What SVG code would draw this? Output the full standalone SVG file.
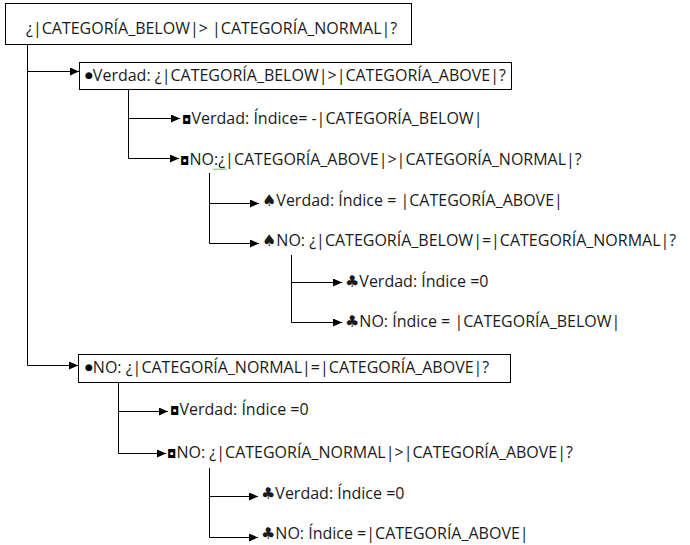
<svg xmlns="http://www.w3.org/2000/svg" width="690" height="545" viewBox="0 0 690 545">
<defs>
<marker id="ah" markerUnits="userSpaceOnUse" markerWidth="9" markerHeight="8" refX="9" refY="4" orient="auto">
<path d="M0,0 L9,4 L0,8 z" fill="#000"/>
</marker>
<style>
text{font-family:"Open Sans","DejaVu Sans",sans-serif;font-size:16px;fill:#1a1a1a}
.b{font-family:"DejaVu Sans",sans-serif;font-size:9px;fill:#000}
.s{font-family:"DejaVu Sans",sans-serif;font-size:12px;fill:#000}
.box{fill:#fff;stroke:#000;stroke-width:1}
.c{fill:none;stroke:#000;stroke-width:1}
.a{fill:none;stroke:#000;stroke-width:1;marker-end:url(#ah)}
</style>
</defs>
<rect width="690" height="545" fill="#fff"/>
<g id="connectors">
<path class="c" d="M27.5,44 V365.5"/>
<path class="a" d="M27.5,71.5 H79"/>
<path class="a" d="M27.5,365.5 H78"/>
<path class="c" d="M128.5,89 V158.5"/>
<path class="a" d="M128.5,118.5 H180"/>
<path class="a" d="M128.5,158.5 H179"/>
<path class="c" d="M209.5,173 V243.5"/>
<path class="a" d="M209.5,203.5 H259"/>
<path class="a" d="M209.5,243.5 H259"/>
<path class="c" d="M291.5,255 V322.5"/>
<path class="a" d="M291.5,282.5 H342"/>
<path class="a" d="M291.5,322.5 H342"/>
<path class="c" d="M118.5,382 V453.5"/>
<path class="a" d="M118.5,411.5 H168"/>
<path class="a" d="M118.5,453.5 H166"/>
<path class="c" d="M209.5,468 V537.5"/>
<path class="a" d="M209.5,496.5 H258"/>
<path class="a" d="M209.5,537.5 H258"/>
</g>
<g id="n0"><rect class="box" x="5.5" y="3.5" width="406" height="41"/><text x="26" y="34">¿|CATEGORÍA_BELOW|&gt; |CATEGORÍA_NORMAL|?</text></g>
<g id="n1"><rect class="box" x="79.5" y="62.5" width="432" height="27"/><text x="85" y="81"><tspan class="b" dy="-3">●</tspan><tspan dy="3">Verdad: ¿|CATEGORÍA_BELOW|&gt;|CATEGORÍA_ABOVE|?</tspan></text></g>
<g id="n2"><text x="182" y="124"><tspan class="s">◘</tspan>Verdad: Índice= -|CATEGORÍA_BELOW|</text></g>
<g id="n3"><text x="180" y="165"><tspan class="s">◘</tspan>NO:¿|CATEGORÍA_ABOVE|&gt;|CATEGORÍA_NORMAL|?</text><path d="M213,168.5 l1.5,1.5 l1.5,-1.5 l1.5,1.5 l1.5,-1.5 l1.5,1.5 l1.5,-1.5 l1.5,1.5 l1.5,-1.5 l1.5,1.5" fill="none" stroke="#3a9a3a" stroke-width="0.8"/></g>
<g id="n4"><text x="262" y="206">♠Verdad: Índice = |CATEGORÍA_ABOVE|</text></g>
<g id="n5"><text x="262" y="246">♠NO: ¿|CATEGORÍA_BELOW|=|CATEGORÍA_NORMAL|?</text></g>
<g id="n6"><text x="345" y="287">♣Verdad: Índice =0</text></g>
<g id="n7"><text x="345" y="327">♣NO: Índice = |CATEGORÍA_BELOW|</text></g>
<g id="n8"><rect class="box" x="78.5" y="354.5" width="432" height="28"/><text x="85" y="373"><tspan class="b" dy="-3">●</tspan><tspan dy="3">NO: ¿|CATEGORÍA_NORMAL|=|CATEGORÍA_ABOVE|?</tspan></text></g>
<g id="n9"><text x="170" y="415"><tspan class="s">◘</tspan>Verdad: Índice =0</text></g>
<g id="n10"><text x="167" y="458"><tspan class="s">◘</tspan>NO: ¿|CATEGORÍA_NORMAL|&gt;|CATEGORÍA_ABOVE|?</text></g>
<g id="n11"><text x="261" y="499">♣Verdad: Índice =0</text></g>
<g id="n12"><text x="261" y="539">♣NO: Índice =|CATEGORÍA_ABOVE|</text></g>
</svg>
